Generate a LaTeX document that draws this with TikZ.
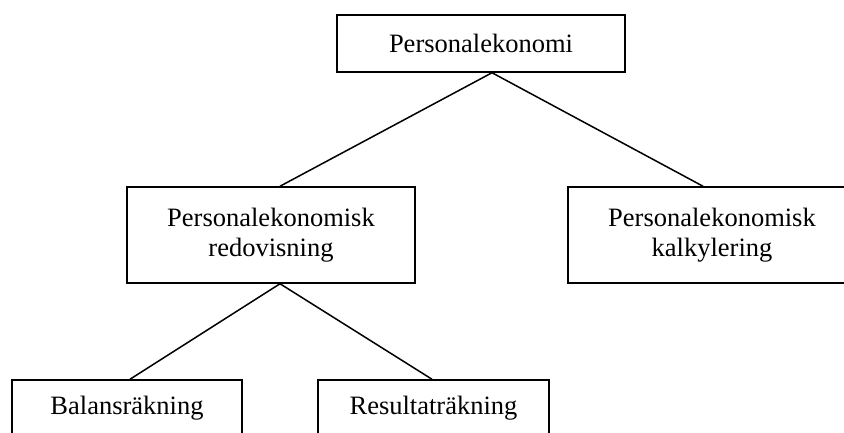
\documentclass[tikz,border=0pt]{standalone}
\usepackage{fontspec}
\setmainfont{Liberation Serif}
\begin{document}
\begin{tikzpicture}[x=1pt,y=-1pt,
  box/.style={draw,line width=1.5pt,inner sep=0pt,align=center,
    font=\fontsize{26.5}{30.5}\selectfont},
  conn/.style={line width=1.5pt}]
\path[use as bounding box,clip] (0,0) rectangle (844,433);
\node[box,minimum width=288,minimum height=57] (top) at (481,43.5) {Personalekonomi};
\node[box,minimum width=288,minimum height=96] (ml) at (271,235) {Personalekonomisk\\redovisning};
\node[box,minimum width=288,minimum height=96] (mr) at (712,235) {Personalekonomisk\\kalkylering};
\node[box,minimum width=230,minimum height=57] (bl) at (127,408.5) {Balansräkning};
\node[box,minimum width=231,minimum height=57] (br) at (433.5,408.5) {Resultaträkning};
\draw[conn] ([xshift=11pt]top.south) -- ([xshift=9pt]ml.north);
\draw[conn] ([xshift=11pt]top.south) -- ([xshift=-9pt]mr.north);
\draw[conn] ([xshift=9pt]ml.south) -- ([xshift=3pt]bl.north);
\draw[conn] ([xshift=9pt]ml.south) -- ([xshift=-1.5pt]br.north);
\end{tikzpicture}
\end{document}
